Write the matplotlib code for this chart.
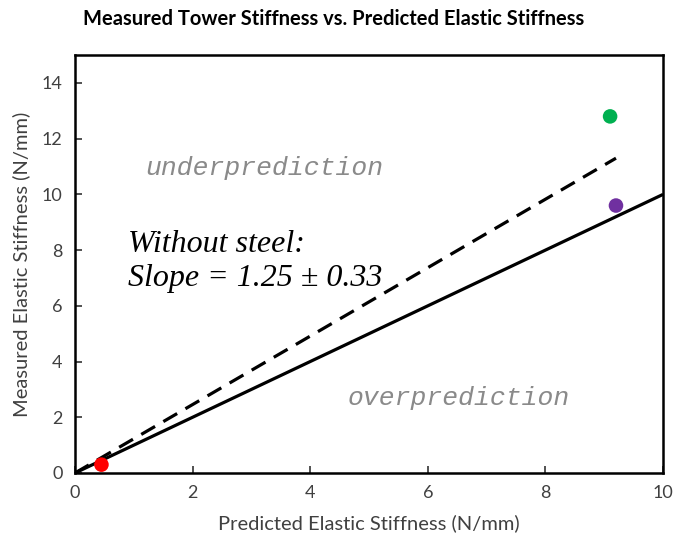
import matplotlib
matplotlib.use("Agg")
import matplotlib.pyplot as plt

# Data
pred_x = [0.45, 9.1, 9.2]
meas_y = [0.3, 12.8, 9.6]
point_colors = ["#ff0000", "#00b050", "#7030a0"]
ideal_x = [0, 10]
ideal_y = [0, 10]
fit_x = [0, 9.2]
fit_y = [0, 11.3]
xticks = [0, 2, 4, 6, 8, 10]
yticks = [0, 2, 4, 6, 8, 10, 12, 14]

fig = plt.figure(figsize=(6.86, 5.35), dpi=100)
ax = fig.add_axes([0.1093, 0.1159, 0.8572, 0.7811])

ax.plot(ideal_x, ideal_y, color="black", lw=2.3, solid_capstyle="butt")
ax.plot(fit_x, fit_y, color="black", lw=2.3, linestyle=(0, (5, 3)))
ax.scatter(pred_x, meas_y, s=110, c=point_colors, zorder=3, edgecolors="none")

ax.set_xlim(0, 10)
ax.set_ylim(0, 15)
ax.set_xticks(xticks)
ax.set_yticks(yticks)
ax.tick_params(direction="in", length=5, width=1.2, labelsize=13, colors="#333333", pad=9)
ax.tick_params(axis="both", labelcolor="#404040")
for lbl in ax.get_xticklabels() + ax.get_yticklabels():
    lbl.set_family(["Lato", "DejaVu Sans"])
for s in ax.spines.values():
    s.set_linewidth(1.8)
    s.set_color("black")

lab_font = dict(family=["Lato", "DejaVu Sans"], size=14.5, color="#404040")
ax.set_xlabel("Predicted Elastic Stiffness (N/mm)", labelpad=9, **lab_font)
ax.set_ylabel("Measured Elastic Stiffness (N/mm)", labelpad=8, **lab_font)

fig.text(0.487, 0.964, "Measured Tower Stiffness vs. Predicted Elastic Stiffness",
         ha="center", va="center", fontsize=14.5, fontweight="bold",
         family=["Lato", "DejaVu Sans"], color="black")

mono = ["Liberation Mono", "DejaVu Sans Mono"]
ax.text(1.19, 10.95, "underprediction", family=mono,
        style="italic", fontsize=19, color="#8a8a8a", ha="left", va="center")
ax.text(4.63, 2.7, "overprediction", family=mono,
        style="italic", fontsize=19, color="#8a8a8a", ha="left", va="center")
serif = ["Liberation Serif", "DejaVu Serif"]
ax.text(0.9, 8.2, "Without steel:", family=serif,
        style="italic", fontsize=23, color="black", ha="left", va="center")
ax.text(0.9, 6.98, "Slope = 1.25 \u00b1 0.33", family=serif,
        style="italic", fontsize=23, color="black", ha="left", va="center")

fig.savefig("out.png", dpi=100)
